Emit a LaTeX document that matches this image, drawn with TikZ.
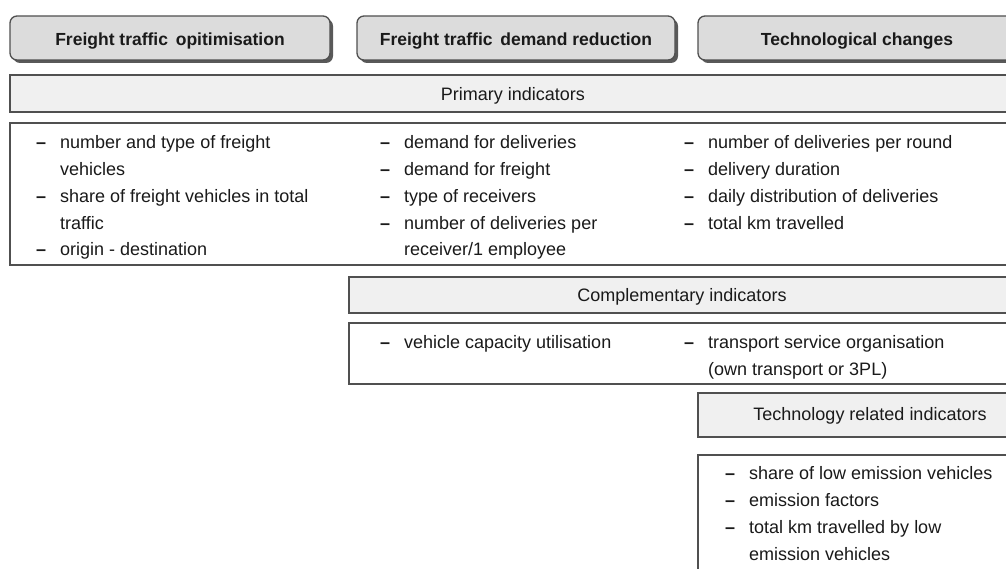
\documentclass[tikz,border=0pt]{standalone}
\usepackage{fontspec}
\setmainfont{Liberation Sans}
\usetikzlibrary{shadows}
\definecolor{hdrfill}{HTML}{DCDCDC}
\definecolor{barfill}{HTML}{F0F0F0}
\definecolor{edge}{HTML}{505050}
\definecolor{ink}{HTML}{1A1A1A}
\begin{document}
\begin{tikzpicture}[x=1pt,y=-1pt,
  hdr/.style={draw=edge, line width=1.3pt, fill=hdrfill, rounded corners=7pt, inner sep=0pt,
    drop shadow={shadow xshift=3pt, shadow yshift=-3pt, fill=black!65, opacity=1}},
  htx/.style={font=\fontsize{17.5}{20}\selectfont\bfseries, inner sep=0pt, text=ink},
  bar/.style={draw=edge, line width=1.3pt, fill=barfill, inner sep=0pt},
  panel/.style={draw=edge, line width=1.3pt, fill=white, inner sep=0pt},
  lbl/.style={font=\fontsize{18}{20}\selectfont, inner sep=0pt, text=ink},
  itm/.style={font=\fontsize{18}{20}\selectfont, inner sep=0pt, anchor=base west, text=ink},
  dsh/.style={font=\fontsize{18}{20}\selectfont\bfseries, inner sep=0pt, anchor=base west, text=ink}
]
\useasboundingbox (0,0) rectangle (1006,569);
\begin{scope}
\clip (0,0) rectangle (1006,569);
% headers
\node[hdr, minimum width=320pt, minimum height=44pt] (h1) at (170,38) {};
\node[htx] (h1t) at (170,41) {Freight traffic\, opitimisation};
\node[hdr, minimum width=318pt, minimum height=44pt] (h2) at (516,38) {};
\node[htx] (h2t) at (516,41) {Freight traffic\, demand reduction};
\node[hdr, minimum width=320pt, minimum height=44pt] (h3) at (858,38) {};
\node[htx] (h3t) at (857,41) {Technological changes};
% primary
\node[bar, minimum width=1010pt, minimum height=37pt] (pb) at (515,93.5) {};
\node[lbl] (pbt) at (513,96) {Primary indicators};
\node[panel, minimum width=1010pt, minimum height=142pt] (pp) at (515,194) {};
% col 1
\node[dsh] (d11) at (36,149) {--};
\node[itm] (t11) at (60,149) {number and type of freight};
\node[itm] (t11b) at (60,176) {vehicles};
\node[dsh] (d12) at (36,203) {--};
\node[itm] (t12) at (60,203) {share of freight vehicles in total};
\node[itm] (t12b) at (60,229.5) {traffic};
\node[dsh] (d13) at (36,256) {--};
\node[itm] (t13) at (60,256) {origin - destination};
% col 2
\node[dsh] (d21) at (380,149) {--};
\node[itm] (t21) at (404,149) {demand for deliveries};
\node[dsh] (d22) at (380,176) {--};
\node[itm] (t22) at (404,176) {demand for freight};
\node[dsh] (d23) at (380,203) {--};
\node[itm] (t23) at (404,203) {type of receivers};
\node[dsh] (d24) at (380,229.5) {--};
\node[itm] (t24) at (404,229.5) {number of deliveries per};
\node[itm] (t24b) at (404,256) {receiver/1 employee};
% col 3
\node[dsh] (d31) at (684,149) {--};
\node[itm] (t31) at (708,149) {number of deliveries per round};
\node[dsh] (d32) at (684,176) {--};
\node[itm] (t32) at (708,176) {delivery duration};
\node[dsh] (d33) at (684,203) {--};
\node[itm] (t33) at (708,203) {daily distribution of deliveries};
\node[dsh] (d34) at (684,229.5) {--};
\node[itm] (t34) at (708,229.5) {total km travelled};
% complementary
\node[bar, minimum width=670pt, minimum height=36pt] (cb) at (684,295) {};
\node[lbl] (cbt) at (682,297) {Complementary indicators};
\node[panel, minimum width=670pt, minimum height=61pt] (cp) at (684,353.5) {};
\node[dsh] (e1) at (380,348) {--};
\node[itm] (f1) at (404,348) {vehicle capacity utilisation};
\node[dsh] (e2) at (684,348) {--};
\node[itm] (f2) at (708,348) {transport service organisation};
\node[itm] (f2b) at (708,375) {(own transport or 3PL)};
% technology
\node[bar, minimum width=320pt, minimum height=44pt] (tb) at (858,415) {};
\node[lbl] (tbt) at (870,416) {Technology related indicators};
\node[panel, minimum width=320pt, minimum height=130pt] (tp) at (858,520) {};
\node[dsh] (g1) at (725,479) {--};
\node[itm] (k1) at (749,479) {share of low emission vehicles};
\node[dsh] (g2) at (725,506) {--};
\node[itm] (k2) at (749,506) {emission factors};
\node[dsh] (g3) at (725,533) {--};
\node[itm] (k3) at (749,533) {total km travelled by low};
\node[itm] (k3b) at (749,560) {emission vehicles};
\end{scope}
\end{tikzpicture}
\end{document}
